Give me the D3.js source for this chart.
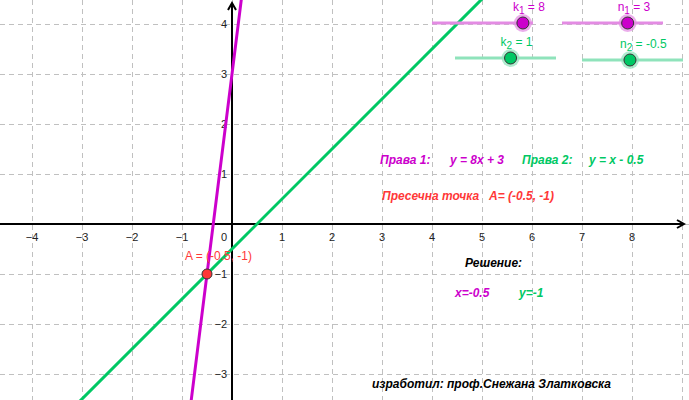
<!DOCTYPE html>
<html lang="en">
<head>
<meta charset="UTF-8">
<title>Пресек на две прави</title>
<script src="https://d3js.org/d3.v7.min.js"></script>
<style>
    body { margin: 0; background: #fff; }
    svg { display: block; font-family: "Liberation Sans", Arial, sans-serif; }
    .grid line { stroke: #c0c0c0; stroke-dasharray: 5,4; }
    .grid path { display: none; }
    .tick-lbl { font-size: 11px; fill: #222; }
    .note { font-size: 12px; font-weight: bold; font-style: italic; }
</style>
</head>
<body>
<svg width="689" height="400" lang="en"></svg>
<script>
// podatoci
var xTicks = [-4, -3, -2, -1, 0, 1, 2, 3, 4, 5, 6, 7, 8, 9];
var yTicks = [-3, -2, -1, 1, 2, 3, 4];
var k = [8, 1];          // koeficienti k1, k2
var n = [3, -0.5];       // slobodni clenovi n1, n2
var sliderMin = -10, sliderMax = 10;
var pointA = [-0.5, -1];

var magenta = "#cc00cc", green = "#00c864", red = "#ff3838";

var svg = d3.select("svg"),
    W = +svg.attr("width"),
    H = +svg.attr("height");

// 50px po edinica, koordinaten pocetok na (232, 224)
var x = d3.scaleLinear().domain([-232 / 50, (W - 232) / 50]).range([0, W]);
var y = d3.scaleLinear().domain([224 / 50, -(H - 224) / 50]).range([0, H]);

// mreza
svg.append("g").attr("class", "grid")
    .attr("transform", "translate(0," + H + ")")
    .call(d3.axisBottom(x).tickValues(xTicks.concat([-5])).tickSize(H).tickFormat(""))
    .selectAll("line").attr("transform", "translate(0," + (-H) + ")").attr("y2", H);
svg.append("g").attr("class", "grid")
    .call(d3.axisLeft(y).tickValues(yTicks.concat([0])).tickSize(-W).tickFormat(""));

// oski
var defs = svg.append("defs");
defs.append("marker").attr("id", "arr")
    .attr("viewBox", "0 0 10 10").attr("refX", 8).attr("refY", 5)
    .attr("markerWidth", 5).attr("markerHeight", 5).attr("orient", "auto")
    .append("path").attr("d", "M1,1 L8,5 L1,9").attr("fill", "none")
    .attr("stroke", "#000").attr("stroke-width", 2);

svg.append("line")
    .attr("x1", 0).attr("x2", W - 5)
    .attr("y1", y(0)).attr("y2", y(0))
    .attr("stroke", "#000").attr("stroke-width", 2).attr("marker-end", "url(#arr)");
svg.append("line")
    .attr("x1", x(0)).attr("x2", x(0))
    .attr("y1", H).attr("y2", 3)
    .attr("stroke", "#000").attr("stroke-width", 2).attr("marker-end", "url(#arr)");

// oznaki na oskite
function fmt(v) { return v < 0 ? "\u2212" + Math.abs(v) : String(v); }
svg.append("g").selectAll("text")
    .data(xTicks.filter(function(d) { return d !== 0 && d !== 9; }))
    .enter().append("text").attr("class", "tick-lbl")
    .attr("x", function(d) { return x(d); })
    .attr("y", y(0) + 17)
    .attr("text-anchor", "middle")
    .text(fmt);
svg.append("text").attr("class", "tick-lbl")
    .attr("x", x(0) - 8).attr("y", y(0) + 17)
    .attr("text-anchor", "middle").text("0");
svg.append("g").selectAll("text")
    .data(yTicks)
    .enter().append("text").attr("class", "tick-lbl")
    .attr("x", x(0) - 5)
    .attr("y", function(d) { return y(d) + 4; })
    .attr("text-anchor", "end")
    .text(fmt);

// pravi
var xd = x.domain();
var colors = [magenta, green];
k.forEach(function(kk, i) {
    var line = d3.line().x(function(d) { return x(d); }).y(function(d) { return y(kk * d + n[i]); });
    svg.append("path")
        .datum(xd)
        .attr("d", line)
        .attr("fill", "none")
        .attr("stroke", colors[i])
        .attr("stroke-width", 3);
});

// tocka A
svg.append("text")
    .attr("x", x(pointA[0]) - 22).attr("y", y(pointA[1]) - 14)
    .attr("fill", red).style("font-size", "12px")
    .text("A = (-0.5, -1)");
svg.append("circle")
    .attr("cx", x(pointA[0])).attr("cy", y(pointA[1])).attr("r", 5)
    .attr("fill", red).attr("stroke", "#333").attr("stroke-width", 1);

// lizgaci
var sliders = [
    {name: "k", sub: "1", value: k[0], left: 432, top: 23, col: magenta, light: "#e38be3"},
    {name: "n", sub: "1", value: n[0], left: 562, top: 23, col: magenta, light: "#e38be3"},
    {name: "k", sub: "2", value: k[1], left: 455, top: 58, col: green, light: "#8fe3bb"},
    {name: "n", sub: "2", value: n[1], left: 582, top: 60, col: green, light: "#8fe3bb"}
];
sliders.forEach(function(s) {
    var sx = d3.scaleLinear().domain([sliderMin, sliderMax]).range([s.left, s.left + 101]);
    var g = svg.append("g");
    g.append("line")
        .attr("x1", sx.range()[0]).attr("x2", sx.range()[1])
        .attr("y1", s.top).attr("y2", s.top)
        .attr("stroke", s.light).attr("stroke-width", 3);
    g.append("circle")
        .attr("cx", sx(s.value)).attr("cy", s.top).attr("r", 9)
        .attr("fill", s.light).attr("opacity", 0.7);
    g.append("circle")
        .attr("cx", sx(s.value)).attr("cy", s.top).attr("r", 6)
        .attr("fill", s.col).attr("stroke", "#333").attr("stroke-width", 1);
    var t = g.append("text")
        .attr("x", sx(s.value) - 10).attr("y", s.top - 12)
        .attr("fill", s.col).style("font-size", "12px");
    t.append("tspan").text(s.name);
    t.append("tspan").attr("dy", 3).style("font-size", "10px").text(s.sub);
    t.append("tspan").attr("dy", -3).text(" = " + s.value);
});

// tekstovi
var notes = [
    {t: "Права 1:", x: 380, y: 164, c: magenta},
    {t: "y = 8x + 3", x: 450, y: 164, c: magenta},
    {t: "Права 2:", x: 522, y: 164, c: green},
    {t: "y = x - 0.5", x: 589, y: 164, c: green},
    {t: "Пресечна точка", x: 382, y: 200, c: red},
    {t: "A= (-0.5, -1)", x: 489, y: 200, c: red},
    {t: "Решение:", x: 465, y: 267, c: "#000"},
    {t: "x=-0.5", x: 455, y: 297, c: magenta},
    {t: "y=-1", x: 519, y: 297, c: green}
];
svg.append("g").selectAll("text")
    .data(notes)
    .enter().append("text").attr("class", "note")
    .attr("x", function(d) { return d.x; })
    .attr("y", function(d) { return d.y; })
    .attr("fill", function(d) { return d.c; })
    .text(function(d) { return d.t; });

svg.append("text").attr("class", "note")
    .attr("x", 372).attr("y", 388)
    .style("font-size", "13px")
    .attr("textLength", 239).attr("lengthAdjust", "spacingAndGlyphs")
    .attr("fill", "#000")
    .text("изработил: проф.Снежана Златковска");
</script>
</body>
</html>
